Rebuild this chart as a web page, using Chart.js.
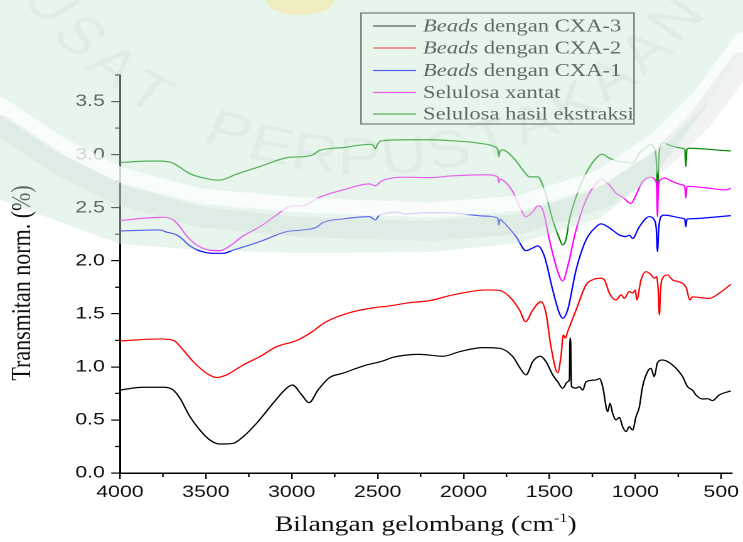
<!DOCTYPE html>
<html>
<head>
<meta charset="utf-8">
<script src="https://cdn.jsdelivr.net/npm/chart.js@4.4.1/dist/chart.umd.min.js"></script>
<style>
  html, body { margin: 0; padding: 0; background: #fff; overflow: hidden; }
  /* the figure is laid out narrow and widened horizontally */
  #wrap { position: absolute; left: 0; top: 0; width: 592px; height: 542px;
          transform: scaleX(1.255); transform-origin: 0 0; }
</style>
</head>
<body>
<div id="wrap"><canvas id="c" width="592" height="542"></canvas></div>
<script>
const STRETCH = 1.255;

// ---- FTIR spectra: wavenumber (cm-1) and normalised transmittance ----
const wnCXA3 = [4000, 3864, 3748, 3690, 3651, 3593, 3535, 3477, 3419, 3341, 3283, 3205, 3109, 3031, 2996, 2944, 2899, 2847, 2779, 2702, 2585, 2469, 2411, 2256, 2120, 2023, 1888, 1791, 1713, 1674, 1636, 1597, 1554, 1520, 1481, 1452, 1423, 1394, 1384, 1380, 1377, 1373, 1370, 1345, 1326, 1306, 1287, 1228, 1209, 1190, 1161, 1147, 1132, 1112, 1093, 1074, 1054, 1035, 1016, 996, 977, 958, 929, 909, 890, 871, 842, 784, 725, 696, 667, 647, 609, 580, 551, 512, 444];
const tCXA3  = [0.782, 0.808, 0.808, 0.782, 0.704, 0.531, 0.405, 0.311, 0.273, 0.28, 0.342, 0.468, 0.657, 0.798, 0.829, 0.74, 0.663, 0.782, 0.90, 0.94, 1.008, 1.056, 1.09, 1.118, 1.10, 1.143, 1.181, 1.175, 1.096, 0.996, 0.924, 1.05, 1.10, 1.05, 0.924, 0.86, 0.798, 0.86, 0.88, 1.27, 1.27, 0.85, 0.813, 0.80, 0.813, 0.782, 0.86, 0.877, 0.89, 0.813, 0.578, 0.656, 0.562, 0.50, 0.524, 0.436, 0.39, 0.436, 0.405, 0.531, 0.62, 0.813, 0.955, 0.986, 0.908, 1.04, 1.065, 1.018, 0.908, 0.813, 0.78, 0.735, 0.697, 0.70, 0.682, 0.735, 0.773];

const wnCXA2 = [4000, 3767, 3690, 3632, 3574, 3496, 3438, 3380, 3283, 3186, 3089, 2973, 2895, 2798, 2663, 2508, 2450, 2314, 2198, 2062, 1868, 1791, 1733, 1674, 1639, 1597, 1549, 1520, 1491, 1452, 1433, 1419, 1408, 1394, 1345, 1287, 1250, 1200, 1180, 1151, 1112, 1083, 1064, 1035, 1016, 1000, 992, 967, 938, 909, 890, 876, 866, 860, 854, 846, 811, 784, 706, 683, 667, 570, 512, 444];
const tCXA2  = [1.244, 1.263, 1.25, 1.159, 1.05, 0.94, 0.90, 0.924, 1.018, 1.096, 1.19, 1.247, 1.317, 1.426, 1.511, 1.56, 1.57, 1.605, 1.624, 1.678, 1.725, 1.72, 1.662, 1.536, 1.426, 1.536, 1.615, 1.505, 1.19, 0.945, 1.096, 1.30, 1.27, 1.332, 1.536, 1.772, 1.82, 1.835, 1.82, 1.694, 1.63, 1.678, 1.645, 1.71, 1.694, 1.725, 1.63, 1.82, 1.897, 1.87, 1.835, 1.85, 1.7, 1.489, 1.7, 1.82, 1.866, 1.82, 1.756, 1.63, 1.66, 1.645, 1.694, 1.778];

const wnCXA1 = [4000, 3767, 3729, 3670, 3641, 3593, 3535, 3457, 3399, 3341, 3186, 3031, 2934, 2857, 2818, 2702, 2547, 2514, 2489, 2372, 2353, 2198, 2062, 1868, 1800, 1795, 1788, 1771, 1694, 1636, 1597, 1568, 1529, 1481, 1442, 1423, 1394, 1345, 1287, 1228, 1200, 1151, 1093, 1054, 1035, 1016, 977, 919, 890, 878, 871, 864, 851, 832, 725, 712, 706, 700, 686, 444];
const tCXA1  = [2.28, 2.29, 2.27, 2.243, 2.21, 2.14, 2.092, 2.07, 2.07, 2.10, 2.18, 2.274, 2.29, 2.315, 2.36, 2.394, 2.415, 2.385, 2.43, 2.457, 2.44, 2.453, 2.45, 2.42, 2.40, 2.337, 2.39, 2.37, 2.227, 2.095, 2.12, 2.14, 2.04, 1.725, 1.505, 1.458, 1.536, 1.913, 2.196, 2.32, 2.347, 2.31, 2.243, 2.227, 2.24, 2.21, 2.32, 2.415, 2.385, 2.3, 2.086, 2.3, 2.415, 2.43, 2.40, 2.39, 2.32, 2.39, 2.395, 2.425];

const wnXantat = [4000, 3864, 3748, 3690, 3651, 3612, 3554, 3477, 3419, 3360, 3283, 3186, 3089, 3012, 2934, 2837, 2702, 2547, 2514, 2479, 2353, 2198, 2062, 1868, 1800, 1795, 1788, 1771, 1713, 1674, 1636, 1597, 1568, 1539, 1500, 1461, 1423, 1394, 1345, 1287, 1228, 1200, 1151, 1112, 1074, 1025, 996, 958, 909, 884, 876, 871, 866, 851, 832, 784, 725, 712, 706, 700, 686, 570, 473, 444];
const tXantat  = [2.378, 2.40, 2.41, 2.385, 2.32, 2.234, 2.149, 2.10, 2.095, 2.14, 2.234, 2.32, 2.43, 2.51, 2.52, 2.60, 2.667, 2.724, 2.705, 2.75, 2.787, 2.783, 2.80, 2.81, 2.79, 2.736, 2.77, 2.76, 2.65, 2.51, 2.415, 2.46, 2.517, 2.48, 2.196, 1.945, 1.81, 1.945, 2.29, 2.573, 2.73, 2.767, 2.714, 2.636, 2.60, 2.54, 2.62, 2.746, 2.787, 2.76, 2.7, 2.415, 2.7, 2.767, 2.78, 2.746, 2.714, 2.70, 2.59, 2.70, 2.70, 2.683, 2.667, 2.683];

const wnEkstraksi = [4000, 3900, 3800, 3709, 3670, 3593, 3500, 3440, 3419, 3322, 3186, 3012, 2934, 2876, 2837, 2702, 2547, 2525, 2514, 2500, 2479, 2314, 2198, 2062, 1907, 1820, 1800, 1795, 1788, 1775, 1713, 1655, 1616, 1568, 1529, 1481, 1442, 1423, 1404, 1384, 1345, 1287, 1228, 1194, 1151, 1093, 1035, 1016, 977, 919, 910, 894, 878, 871, 864, 851, 832, 803, 725, 712, 706, 700, 686, 570, 500, 444];
const tEkstraksi  = [2.925, 2.935, 2.94, 2.93, 2.90, 2.82, 2.775, 2.76, 2.76, 2.815, 2.887, 2.975, 2.98, 3.00, 3.04, 3.066, 3.097, 3.09, 3.054, 3.10, 3.13, 3.14, 3.14, 3.13, 3.107, 3.075, 3.04, 2.98, 3.03, 3.045, 2.975, 2.856, 2.79, 2.79, 2.667, 2.385, 2.21, 2.149, 2.2, 2.385, 2.60, 2.825, 2.966, 3.003, 2.966, 2.934, 2.925, 2.92, 3.013, 3.09, 3.1, 3.07, 2.95, 2.60, 2.95, 3.09, 3.11, 3.09, 3.06, 3.05, 2.887, 3.05, 3.06, 3.05, 3.04, 3.035];

const seriesLabels = ['Beads dengan CXA-3', 'Beads dengan CXA-2', 'Beads dengan CXA-1', 'Selulosa xantat', 'Selulosa hasil ekstraksi'];
const seriesColors = ['#000000', '#ff0000', '#0000ff', '#ff00ff', '#008a00'];

// axis ticks
const xMajor = [4000, 3500, 3000, 2500, 2000, 1500, 1000, 500];
const xMinor = [3750, 3250, 2750, 2250, 1750, 1250, 750];
const yMajor = [0.0, 0.5, 1.0, 1.5, 2.0, 2.5, 3.0, 3.5];
const yMinor = [0.25, 0.75, 1.25, 1.75, 2.25, 2.75, 3.25, 3.75];

const series = [
  [wnCXA3, tCXA3], [wnCXA2, tCXA2], [wnCXA1, tCXA1], [wnXantat, tXantat], [wnEkstraksi, tEkstraksi]
];

const X = v => v / STRETCH;   // widened-figure x -> canvas x

function stroke(ctx, pts, width, color) {
  ctx.beginPath();
  pts.forEach((p, i) => i ? ctx.lineTo(X(p[0]), p[1]) : ctx.moveTo(X(p[0]), p[1]));
  ctx.lineWidth = width; ctx.strokeStyle = color; ctx.lineJoin = 'round'; ctx.lineCap = 'round';
  ctx.stroke();
}

const decor = {
  id: 'decor',
  afterDraw(chart) {
    const { ctx, chartArea: a, scales: { x, y } } = chart;
    ctx.save();

    // minor ticks
    ctx.strokeStyle = '#000'; ctx.lineWidth = 1.2;
    ctx.beginPath();
    xMinor.forEach(v => { const p = x.getPixelForValue(v); ctx.moveTo(p, a.bottom); ctx.lineTo(p, a.bottom + 4); });
    yMinor.forEach(v => { const p = y.getPixelForValue(v); ctx.moveTo(a.left, p); ctx.lineTo(a.left - 4, p); });
    ctx.stroke();

    // axis titles
    ctx.fillStyle = '#111';
    const serif = '"Liberation Serif", "Times New Roman", serif';
    ctx.font = `22px ${serif}`;
    const main = 'Bilangan gelombang (cm', tail = ')';
    const wMain = ctx.measureText(main).width, wTail = ctx.measureText(tail).width;
    ctx.font = `13px ${serif}`;
    const sup = '-1', wSup = ctx.measureText(sup).width;
    let tx = (a.left + a.right) / 2 - (wMain + wSup + wTail) / 2;
    const ty = 531;
    ctx.textAlign = 'left'; ctx.textBaseline = 'alphabetic';
    ctx.font = `22px ${serif}`; ctx.fillText(main, tx, ty); tx += wMain;
    ctx.font = `13px ${serif}`; ctx.fillText(sup, tx, ty - 9); tx += wSup;
    ctx.font = `22px ${serif}`; ctx.fillText(tail, tx, ty);

    ctx.save();
    ctx.translate(X(23), 283);
    ctx.rotate(-Math.PI / 2);
    ctx.textAlign = 'center'; ctx.textBaseline = 'middle';
    ctx.fillText('Transmitan norm. (%)', 0, 0);
    ctx.restore();

    // legend
    const lx0 = X(361), lx1 = X(634), ly0 = 13, ly1 = 124;
    ctx.fillStyle = '#fff';
    ctx.fillRect(lx0, ly0, lx1 - lx0, ly1 - ly0);
    ctx.strokeStyle = '#333'; ctx.lineWidth = 1.2;
    ctx.strokeRect(lx0, ly0, lx1 - lx0, ly1 - ly0);
    const rows = [26, 48, 70.5, 92.5, 114];
    chart.data.datasets.forEach((ds, i) => {
      const ry = rows[i];
      ctx.beginPath(); ctx.moveTo(X(373), ry); ctx.lineTo(X(416), ry);
      ctx.strokeStyle = ds.borderColor; ctx.lineWidth = 1.2; ctx.stroke();
      ctx.fillStyle = '#111'; ctx.textBaseline = 'middle'; ctx.textAlign = 'left';
      let px = X(423);
      let label = ds.label;
      if (label.startsWith('Beads')) {
        ctx.font = `italic 18px ${serif}`;
        ctx.fillText('Beads', px, ry + 1);
        px += ctx.measureText('Beads').width;
        label = label.slice(5);
      }
      ctx.font = `18px ${serif}`;
      ctx.fillText(label, px, ry + 1);
    });

    // library watermark laid over the upper part of the figure
    ctx.beginPath();
    const tint = [[0,0],[743,0],[743,50],[700,115],[655,175],[600,218],[520,243],[430,252],[300,253],[200,250],[120,244],[60,222],[0,200]];
    tint.forEach((p, i) => i ? ctx.lineTo(X(p[0]), p[1]) : ctx.moveTo(X(p[0]), p[1]));
    ctx.closePath();
    ctx.fillStyle = 'rgba(198,230,212,0.42)';
    ctx.fill();
    stroke(ctx, [[0,105],[60,145],[120,175],[200,196],[300,205],[430,210],[520,203],[600,178],[660,138],[700,98],[743,40]], 15, 'rgba(255,255,255,0.72)');
    stroke(ctx, [[0,125],[60,165],[120,195],[200,217],[300,227],[430,231],[520,224],[600,199],[660,160],[700,120],[743,62]], 20, 'rgba(205,212,208,0.28)');
    ctx.beginPath();
    ctx.ellipse(X(300), 0, X(34), 15, 0, 0, Math.PI * 2);
    ctx.fillStyle = 'rgba(250,232,150,0.5)';
    ctx.fill();
    // ring lettering
    const word = 'PUSAT PERPUSTAKAAN';
    const cx = 370, cy = -250, r = 410;
    ctx.font = `52px "Liberation Sans", sans-serif`;
    ctx.fillStyle = 'rgba(110,150,125,0.08)';
    ctx.textAlign = 'center'; ctx.textBaseline = 'middle';
    for (let i = 0; i < word.length; i++) {
      const ang = (148 - i * 6.28) * Math.PI / 180;
      const px = cx + r * Math.cos(ang), py = cy + r * Math.sin(ang);
      ctx.save();
      ctx.translate(X(px), py);
      ctx.rotate(ang - Math.PI / 2);
      ctx.fillText(word[i], 0, 0);
      ctx.restore();
    }
    ctx.restore();
  }
};

const sans = '"Liberation Sans", Arial, sans-serif';

new Chart(document.getElementById('c'), {
  type: 'line',
  data: {
    datasets: series.map(([wn, t], i) => ({
      label: seriesLabels[i],
      data: wn.map((w, j) => ({ x: w, y: t[j] })),
      borderColor: seriesColors[i],
      borderWidth: 1.2,
      pointRadius: 0,
      cubicInterpolationMode: 'monotone',
      fill: false
    }))
  },
  options: {
    responsive: false,
    devicePixelRatio: 2,
    animation: false,
    layout: { padding: { left: 0, right: 8.7, top: 75, bottom: 0 } },
    plugins: { legend: { display: false }, tooltip: { enabled: false } },
    scales: {
      x: {
        type: 'linear', reverse: true, min: 440, max: 4000,
        afterBuildTicks: s => { s.ticks = xMajor.map(v => ({ value: v })); },
        ticks: { autoSkip: false, maxRotation: 0, padding: 3, color: '#111',
                 font: { family: sans, size: 17 }, callback: v => String(v) },
        grid: { drawOnChartArea: false, drawTicks: true, tickLength: 6, color: '#000', lineWidth: 1.2 },
        border: { color: '#000', width: 1.5 },
        afterFit: s => { s.height = 69; }
      },
      y: {
        min: 0, max: 3.75,
        afterBuildTicks: s => { s.ticks = yMajor.map(v => ({ value: v })); },
        ticks: { autoSkip: false, padding: 5, color: '#111',
                 font: { family: sans, size: 17 }, callback: v => v.toFixed(1) },
        grid: { drawOnChartArea: false, drawTicks: true, tickLength: 7, color: '#000', lineWidth: 1.2 },
        border: { color: '#000', width: 1.5 },
        afterFit: s => { s.width = 95.6; }
      }
    }
  },
  plugins: [decor]
});
</script>
</body>
</html>
